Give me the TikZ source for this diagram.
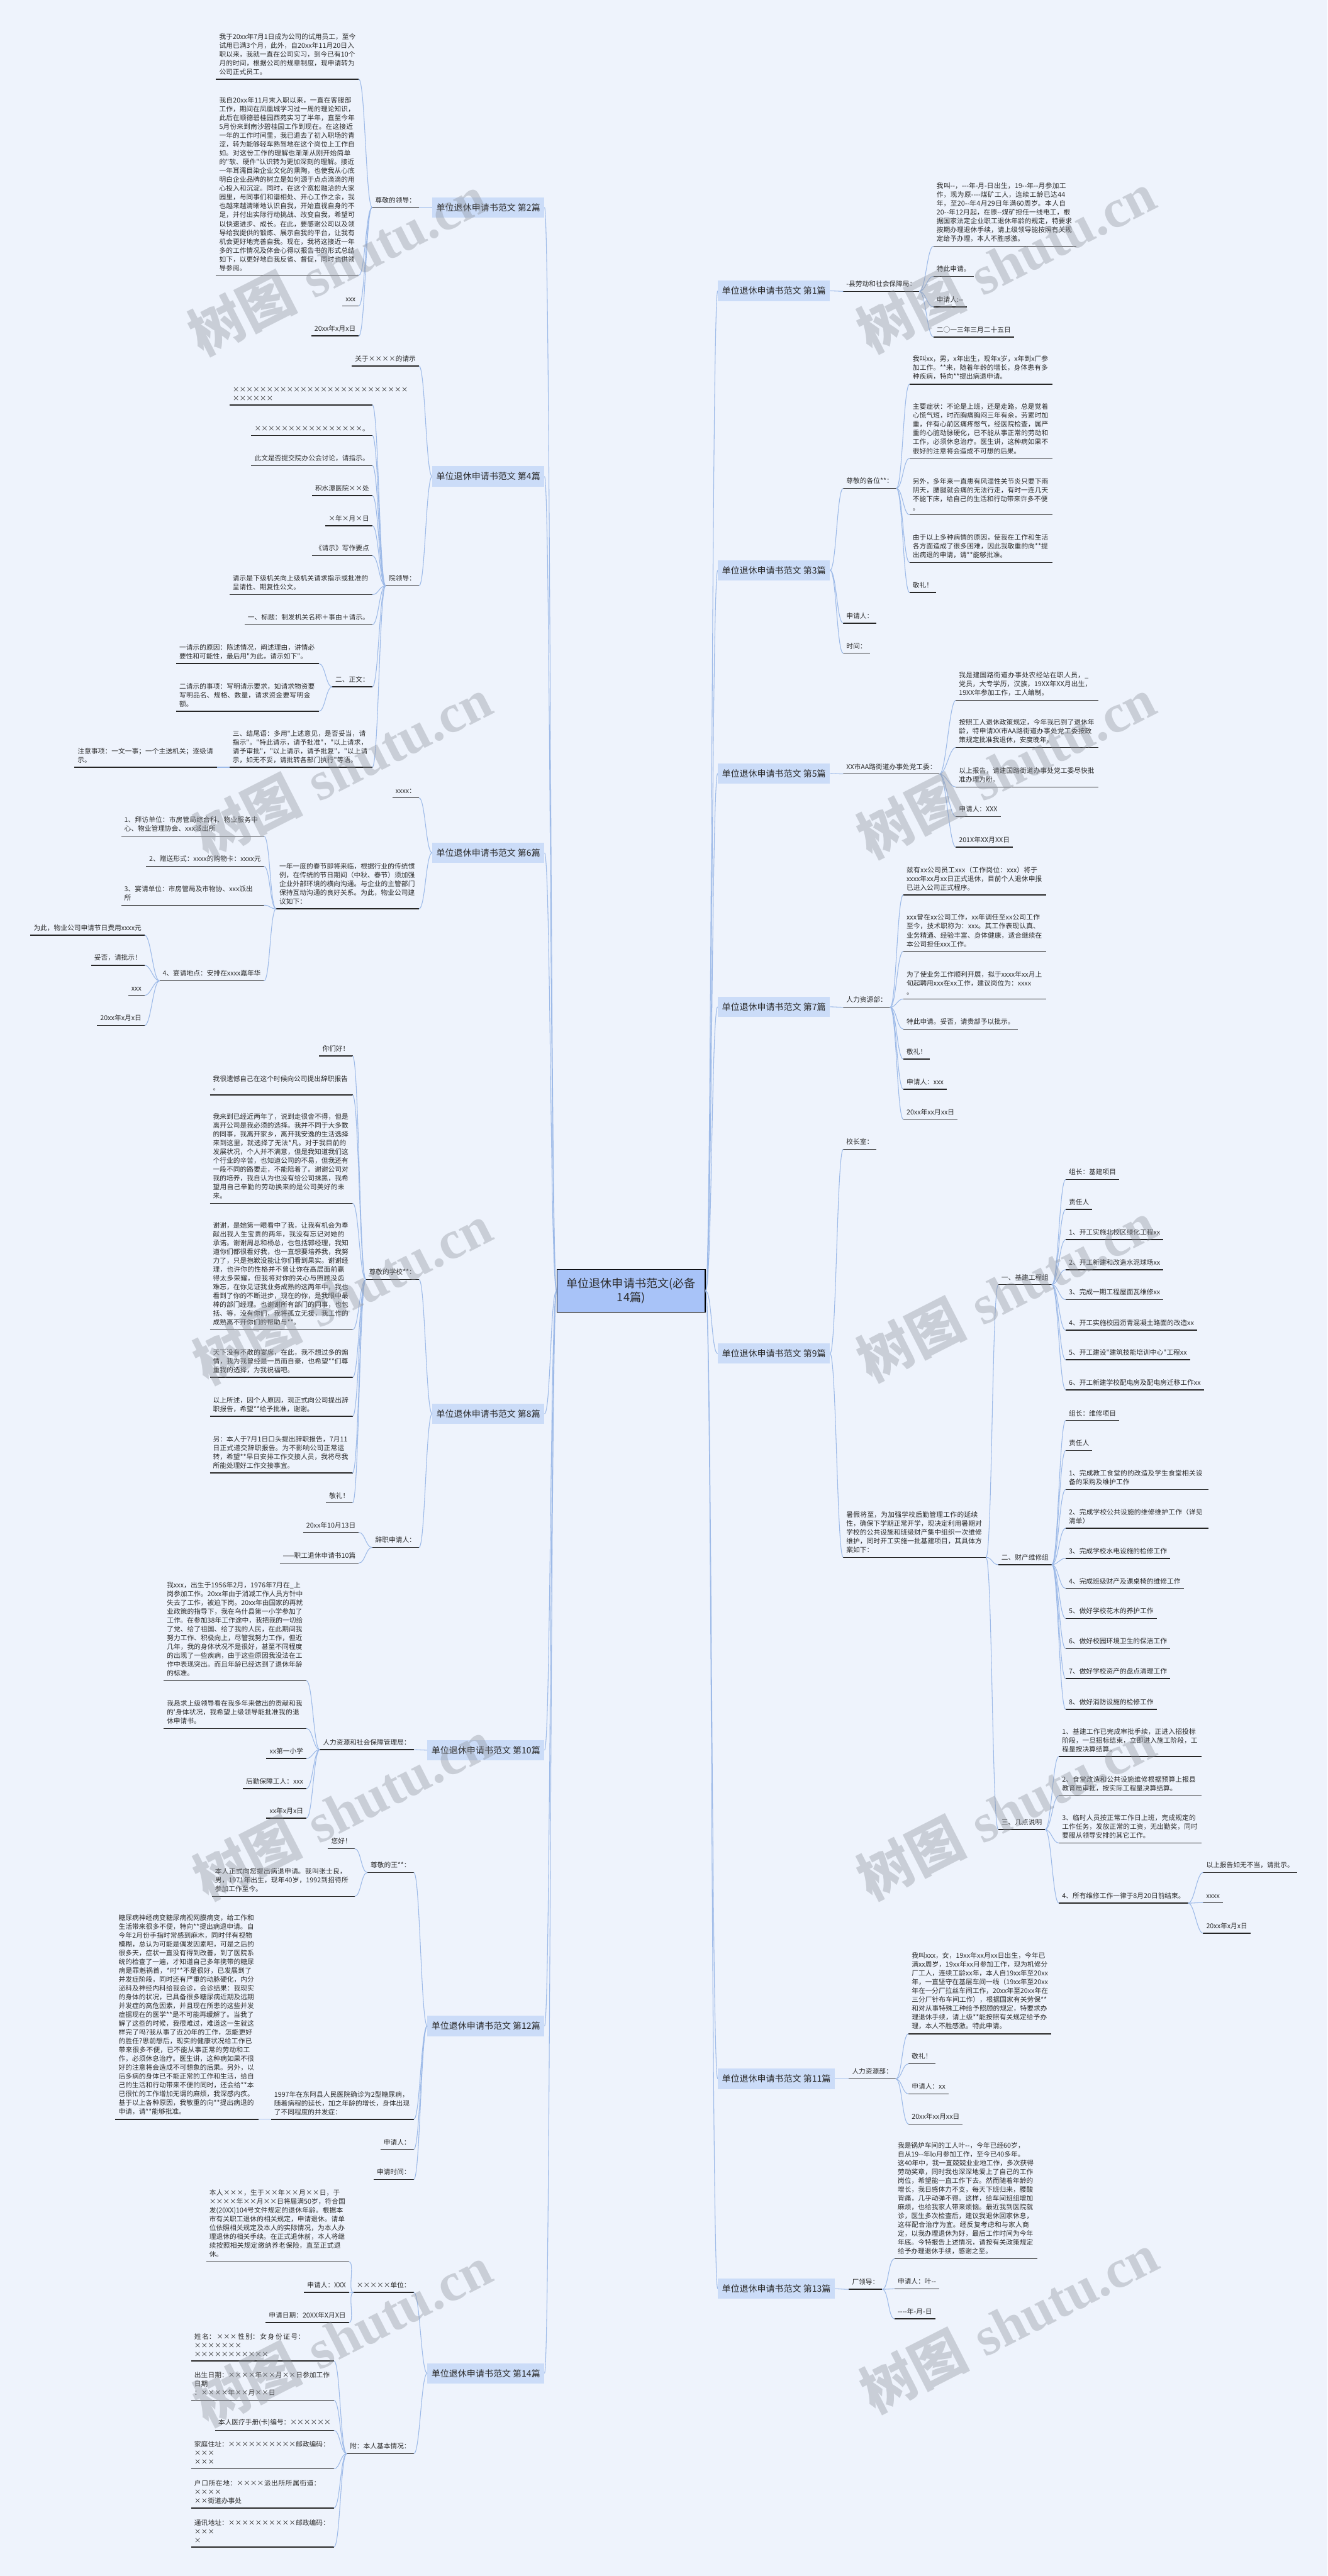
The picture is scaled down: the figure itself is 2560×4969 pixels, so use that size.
\documentclass[tikz,border=0pt]{standalone}
\usepackage{fontspec}
\newfontfamily\zh{Noto Sans CJK SC}
\newfontfamily\wmf{Liberation Serif}
\usepackage{tikz}
\XeTeXlinebreaklocale "zh"
\XeTeXlinebreakskip=0pt plus 1pt
\definecolor{bgc}{HTML}{EEF3FC}
\definecolor{tpc}{HTML}{CBDCF8}
\definecolor{rtc}{HTML}{A8C3F8}
\definecolor{lkc}{HTML}{9DBAE8}
\definecolor{txc}{HTML}{2B2B2B}
\definecolor{wmc}{HTML}{8E939C}

\begin{document}
\begin{tikzpicture}[
    x=1pt, y=-1pt,
    leaf/.style={font=\zh\fontsize{13}{17}\selectfont, text=txc, inner xsep=6pt, inner ysep=8pt, align=left,
      append after command={(\tikzlastnode.south west) edge[uline] (\tikzlastnode.south east)}},
    lf/.style={leaf, anchor=south east},
    rt/.style={leaf, anchor=south west},
    para/.style={text width=263pt},
    uline/.style={draw=black!85, line width=1.8pt},
    topic/.style={fill=tpc, text=txc, font=\zh\fontsize{17}{20}\selectfont, inner xsep=8pt, minimum height=39pt},
    rootbox/.style={fill=rtc, draw=black, line width=1.5pt, text=txc, font=\zh\fontsize{22}{27}\selectfont,
      align=center, minimum width=286pt, minimum height=83pt},
    lk/.style={draw=lkc, line width=1.3pt},
    toL/.style={to path={.. controls +(-12,0) and +(12,0) .. (\tikztotarget)}},
    toR/.style={to path={.. controls +(12,0) and +(-12,0) .. (\tikztotarget)}},
    wm/.style={rotate=27, text=wmc, opacity=0.38, inner sep=0pt, font=\fontsize{105}{105}\selectfont}
]
\fill[bgc] (0,0) rectangle (2560,4969);
\useasboundingbox (0,0) rectangle (2560,4969);

\node[rootbox] (R) at (1217,2490) {单位退休申请书范文(必备\\14篇)};

% left side
\node[topic, anchor=east] (L2) at (1050,400) {单位退休申请书范文 第2篇};
\node[lf] (L2a) at (808,400) {尊敬的领导：};
\node[lf, para] (L2a1) at (692,153) {我于20xx年7月1日成为公司的试用员工，至今试用已满3个月，此外，自20xx年11月20日入职以来，我就一直在公司实习，到今已有10个月的时间，根据公司的规章制度，现申请转为公司正式员工。};
\node[lf, para] (L2a2) at (692,531) {我自20xx年11月末入职以来，一直在客服部工作，期间在凤凰城学习过一周的理论知识，此后在顺德碧桂园西苑实习了半年，直至今年5月份来到南沙碧桂园工作到现在。在这接近一年的工作时间里，我已退去了初入职场的青涩，转为能够轻车熟驾地在这个岗位上工作自如。对这份工作的理解也渐渐从刚开始简单的"软、硬件"认识转为更加深刻的理解。接近一年耳濡目染企业文化的熏陶，也使我从心底明白企业品牌的树立是如何源于点点滴滴的用心投入和沉淀。同时，在这个宽松融洽的大家园里，与同事们和谐相处、开心工作之余，我也越来越清晰地认识自我，开始直视自身的不足，并付出实际行动挑战、改变自我，希望可以快速进步、成长。在此，要感谢公司以及领导给我提供的锻炼、展示自我的平台，让我有机会更好地完善自我。现在，我将这接近一年多的工作情况及体会心得以报告书的形式总结如下，以更好地自我反省、督促，同时也供领导参阅。};
\node[lf] (L2a3) at (692,590) {xxx};
\node[lf] (L2a4) at (692,648) {20xx年x月x日};

\node[topic, anchor=east] (L4) at (1050,919) {单位退休申请书范文 第4篇};
\node[lf] (L4a) at (808,706) {关于××××的请示};
\node[lf] (L4b) at (808,1130) {院领导：};
\node[lf, para] (L4b1) at (718,781) {××××××××××××××××××××××××××\\××××××};
\node[lf] (L4b2) at (718,840) {××××××××××××××××。};
\node[lf] (L4b3) at (718,898) {此文是否提交院办公会讨论，请指示。};
\node[lf] (L4b4) at (718,956) {积水潭医院××处};
\node[lf] (L4b5) at (718,1014) {×年×月×日};
\node[lf] (L4b6) at (718,1072) {《请示》写作要点};
\node[lf, para] (L4b7) at (718,1147) {请示是下级机关向上级机关请求指示或批准的呈请性、期复性公文。};
\node[lf] (L4b8) at (718,1205) {一、标题：制发机关名称＋事由＋请示。};
\node[lf] (L4b9) at (718,1325) {二、正文：};
\node[lf, para] (L4c1) at (615,1280) {一请示的原因：陈述情况，阐述理由，讲情必要性和可能性，最后用"为此，请示如下"。};
\node[lf, para] (L4c2) at (615,1372) {二请示的事项：写明请示要求，如请求物资要写明品名、规格、数量，请求资金要写明金额。};
\node[lf, para] (L4b10) at (718,1480) {三、结尾语：多用"上述意见，是否妥当，请指示"。"特此请示，请予批准"，"以上请求，请予审批"，"以上请示，请予批复"，"以上请示，如无不妥，请批转各部门执行"等语。};
\node[lf, para] (L4d) at (419,1480) {注意事项：一文一事；一个主送机关；逐级请示。};

\node[topic, anchor=east] (L6) at (1050,1645) {单位退休申请书范文 第6篇};
\node[lf] (L6a) at (808,1539) {xxxx：};
\node[lf, para] (L6b) at (808,1753) {一年一度的春节即将来临，根据行业的传统惯例，在传统的节日期间（中秋、春节）须加强企业外部环境的横向沟通。与企业的主管部门保持互动沟通的良好关系。为此，物业公司建议如下：};
\node[lf, para] (L6b1) at (509,1613) {1、拜访单位：市房管局综合科、物业服务中心、物业管理协会、xxx派出所};
\node[lf] (L6b2) at (509,1671) {2、赠送形式：xxxx的购物卡：xxxx元};
\node[lf, para] (L6b3) at (509,1746) {3、宴请单位：市房管局及市物协、xxx派出\\所};
\node[lf] (L6b4) at (509,1892) {4、宴请地点：安排在xxxx嘉年华};
\node[lf] (L6c1) at (279,1804) {为此，物业公司申请节日费用xxxx元};
\node[lf] (L6c2) at (279,1862) {妥否，请批示！};
\node[lf] (L6c3) at (279,1920) {xxx};
\node[lf] (L6c4) at (279,1978) {20xx年x月x日};

\node[topic, anchor=east] (L8) at (1050,2727) {单位退休申请书范文 第8篇};
\node[lf] (L8a) at (808,2468) {尊敬的学校**：};
\node[lf] (L8a1) at (680,2037) {你们好！};
\node[lf, para] (L8a2) at (680,2112) {我很遗憾自己在这个时候向公司提出辞职报告\\。};
\node[lf, para] (L8a3) at (680,2321) {我来到已经近两年了，说到走很舍不得，但是离开公司是我必须的选择。我并不同于大多数的同事，我离开家乡，离开我安逸的生活选择来到这里，就选择了无法*凡。对于我目前的发展状况，个人并不满意，但是我知道我们这个行业的辛苦，也知道公司的不易，但我还有一段不同的路要走，不能陪着了。谢谢公司对我的培养，我自认为也没有给公司抹黑，我希望用自己辛勤的劳动换来的是公司美好的未来。};
\node[lf, para] (L8a4) at (680,2565) {谢谢，是她第一眼看中了我，让我有机会为奉献出我人生宝贵的两年，我没有忘记对她的承诺。谢谢周总和杨总，也包括郭经理，我知道你们都很看好我，也一直想要培养我，我努力了，只是抱歉没能让你们看到果实。谢谢经理，也许你的性格并不曾让你在高层面前赢得太多荣耀，但我将对你的关心与照顾没齿难忘，在你见证我业务成熟的这两年中，我也看到了你的不断进步，现在的你，是我眼中最棒的部门经理。也谢谢所有部门的同事，也包括、等，没有你们，我将孤立无援，我工作的成熟离不开你们的帮助与**。};
\node[lf, para] (L8a5) at (680,2657) {天下没有不散的宴席，在此，我不想过多的煽情，我为我曾经是一员而自豪，也希望**们尊重我的选择，为我祝福吧。};
\node[lf, para] (L8a6) at (680,2732) {以上所述，因个人原因，现正式向公司提出辞职报告，希望**给予批准，谢谢。};
\node[lf, para] (L8a7) at (680,2841) {另：本人于7月1日口头提出辞职报告，7月11日正式递交辞职报告。为不影响公司正常运转，希望**早日安排工作交接人员，我将尽我所能处理好工作交接事宜。};
\node[lf] (L8a8) at (680,2899) {敬礼！};
\node[lf] (L8b) at (808,2985) {辞职申请人：};
\node[lf] (L8b1) at (692,2956) {20xx年10月13日};
\node[lf] (L8b2) at (692,3015) {——职工退休申请书10篇};

\node[topic, anchor=east] (L10) at (1050,3376) {单位退休申请书范文 第10篇};
\node[lf] (L10a) at (798,3375) {人力资源和社会保障管理局：};
\node[lf, para] (L10a1) at (591,3242) {我xxx，出生于1956年2月，1976年7月在\_上岗参加工作。20xx年由于消减工作人员方针中失去了工作，被迫下岗。20xx年由国家的再就业政策的指导下，我在乌什县第一小学参加了工作。在参加38年工作途中，我把我的一切给了党、给了祖国、给了我的人民，在此期间我努力工作、积极向上，尽管我努力工作，但近几年，我的身体状况不是很好，甚至不同程度的出现了一些疾病，由于这些原因我没法在工作中表现突出。而且年龄已经达到了退休年龄的标准。};
\node[lf, para] (L10a2) at (591,3334) {我恳求上级领导看在我多年来做出的贡献和我的'身体状况，我希望上级领导能批准我的退休申请书。};
\node[lf] (L10a3) at (591,3392) {xx第一小学};
\node[lf] (L10a4) at (591,3450) {后勤保障工人：xxx};
\node[lf] (L10a5) at (591,3507) {xx年x月x日};

\node[topic, anchor=east] (L12) at (1050,3908) {单位退休申请书范文 第12篇};
\node[lf] (L12a) at (798,3612) {尊敬的王**：};
\node[lf] (L12a1) at (684,3566) {您好！};
\node[lf, para] (L12a2) at (684,3658) {本人正式向您提出病退申请。我叫张士良，男，1971年出生，现年40岁，1992到招待所参加工作至今。};
\node[lf, para] (L12b) at (798,4088) {1997年在东阿县人民医院确诊为2型糖尿病，随着病程的延长，加之年龄的增长，身体出现了不同程度的并发症：};
\node[lf, para] (L12c) at (498,4088) {糖尿病神经病变糖尿病视网膜病变，给工作和生活带来很多不便，特向**提出病退申请。自今年2月份手指时常感到麻木，同时伴有视物模糊，总认为可能是偶发因素吧，可是之后的很多天，症状一直没有得到改善，到了医院系统的检查了一遍，才知道自己多年携带的糖尿病是罪魁祸首，*时**不是很好，已发展到了并发症阶段，同时还有严重的动脉硬化，内分泌科及神经内科给我会诊，会诊结果：我现实的身体的状况，已具备很多糖尿病近期及远期并发症的高危因素，并且现在所患的这些并发症据现在的医学**是不可能再缓解了。当我了解了这些的时候，我很难过，难道这一生就这样完了吗?我从事了近20年的工作，怎能更好的胜任?思前想后，现实的健康状况给工作已带来很多不便，已不能从事正常的劳动和工作，必须休息治疗。医生讲，这种病如果不很好的注意将会造成不可想象的后果。另外，以后多病的身体已不能正常的工作和生活，给自己的生活和行动带来不便的同时，还会给**本已很忙的工作增加无谓的麻烦，我深感内疚。基于以上各种原因，我敬重的向**提出病退的申请，请**能够批准。};
\node[lf] (L12d) at (798,4146) {申请人：};
\node[lf] (L12e) at (798,4204) {申请时间：};

\node[topic, anchor=east] (L14) at (1050,4578) {单位退休申请书范文 第14篇};
\node[lf] (L14a) at (798,4422) {×××××单位：};
\node[lf, para] (L14a1) at (673,4363) {本人×××，生于××年××月××日，于××××年××月××日将届满50岁，符合国发(20XX)104号文件规定的退休年龄。根据本市有关职工退休的相关规定，申请退休。请单位依照相关规定及本人的实际情况，为本人办理退休的相关手续。在正式退休前，本人将继续按照相关规定缴纳养老保险，直至正式退休。};
\node[lf] (L14a2) at (673,4422) {申请人：XXX};
\node[lf] (L14a3) at (673,4480) {申请日期：20XX年X月X日};
\node[lf] (L14b) at (798,4733) {附：本人基本情况：};
\node[lf, para] (L14b1) at (644,4554) {姓名：×××性别：女身份证号：×××××××\\×××××××××××};
\node[lf, para] (L14b2) at (644,4630) {出生日期：××××年××月××日参加工作日期\\：××××年××月××日};
\node[lf] (L14b3) at (644,4688) {本人医疗手册(卡)编号：××××××};
\node[lf, para] (L14b4) at (644,4762) {家庭住址：××××××××××邮政编码：×××\\×××};
\node[lf, para] (L14b5) at (644,4838) {户口所在地：××××派出所所属街道：××××\\××街道办事处};
\node[lf, para] (L14b6) at (644,4913) {通讯地址：××××××××××邮政编码：×××\\×};

% right side
\node[topic, anchor=west] (R1) at (1384,561) {单位退休申请书范文 第1篇};
\node[rt] (R1a) at (1626,562) {-县劳动和社会保障局：};
\node[rt, para] (R1a1) at (1800,475) {我叫--，---年-月-日出生，19--年--月参加工作，现为原----煤矿工人，连续工龄已达44年，至20--年4月29日年满60周岁。本人自20--年12月起，在原--煤矿担任一线电工，根据国家法定企业职工退休年龄的规定，特要求按期办理退休手续，请上级领导能按照有关规定给予办理，本人不胜感激。};
\node[rt] (R1a2) at (1800,533) {特此申请。};
\node[rt] (R1a3) at (1800,592) {申请人:--};
\node[rt] (R1a4) at (1800,650) {二○一三年三月二十五日};

\node[topic, anchor=west] (R3) at (1384,1100) {单位退休申请书范文 第3篇};
\node[rt] (R3a) at (1626,942) {尊敬的各位**：};
\node[rt, para] (R3a1) at (1754,741) {我叫xx，男，x年出生，现年x岁，x年到x厂参加工作。**来，随着年龄的增长，身体患有多种疾病，特向**提出病退申请。};
\node[rt, para] (R3a2) at (1754,884) {主要症状：不论是上班，还是走路，总是觉着心慌气短，时而胸痛胸闷三年有余，劳累时加重，伴有心前区痛疼憋气，经医院检查，属严重的心脏动脉硬化，已不能从事正常的劳动和工作，必须休息治疗。医生讲，这种病如果不很好的注意将会造成不可想的后果。};
\node[rt, para] (R3a3) at (1754,993) {另外，多年来一直患有风湿性关节炎只要下雨阴天，腰腿就会痛的无法行走，有时一连几天不能下床，给自己的生活和行动带来许多不便\\。};
\node[rt, para] (R3a4) at (1754,1085) {由于以上多种病情的原因，使我在工作和生活各方面造成了很多困难，因此我敬重的向**提出病退的申请，请**能够批准。};
\node[rt] (R3a5) at (1754,1143) {敬礼！};
\node[rt] (R3b) at (1626,1202) {申请人：};
\node[rt] (R3c) at (1626,1260) {时间：};

\node[topic, anchor=west] (R5) at (1384,1492) {单位退休申请书范文 第5篇};
\node[rt] (R5a) at (1626,1493) {XX市AA路街道办事处党工委：};
\node[rt, para] (R5a1) at (1843,1351) {我是建国路街道办事处农经站在职人员，\_党员，大专学历，汉族，19XX年XX月出生，19XX年参加工作，工人编制。};
\node[rt, para] (R5a2) at (1843,1442) {按照工人退休政策规定，今年我已到了退休年龄，特申请XX市AA路街道办事处党工委按政策规定批准我退休，安度晚年。};
\node[rt, para] (R5a3) at (1843,1518) {以上报告，请建国路街道办事处党工委尽快批准办理为盼。};
\node[rt] (R5a4) at (1843,1575) {申请人：XXX};
\node[rt] (R5a5) at (1843,1634) {201X年XX月XX日};

\node[topic, anchor=west] (R7) at (1384,1942) {单位退休申请书范文 第7篇};
\node[rt] (R7a) at (1626,1943) {人力资源部：};
\node[rt, para] (R7a1) at (1742,1726) {兹有xx公司员工xxx（工作岗位：xxx）将于xxxx年xx月xx日正式退休，目前个人退休申报已进入公司正式程序。};
\node[rt, para] (R7a2) at (1742,1835) {xxx曾在xx公司工作，xx年调任至xx公司工作至今，技术职称为：xxx。其工作表现认真、业务精通、经验丰富、身体健康，适合继续在本公司担任xxx工作。};
\node[rt, para] (R7a3) at (1742,1927) {为了使业务工作顺利开展，拟于xxxx年xx月上旬起聘用xxx在xx工作，建议岗位为：xxxx\\。};
\node[rt] (R7a4) at (1742,1985) {特此申请。妥否，请贵部予以批示。};
\node[rt] (R7a5) at (1742,2043) {敬礼！};
\node[rt] (R7a6) at (1742,2101) {申请人：xxx};
\node[rt] (R7a7) at (1742,2159) {20xx年xx月xx日};

\node[topic, anchor=west] (R9) at (1384,2611) {单位退休申请书范文 第9篇};
\node[rt] (R9a) at (1626,2217) {校长室：};
\node[rt, para] (R9b) at (1626,3004) {暑假将至，为加强学校后勤管理工作的延续性，确保下学期正常开学，现决定利用暑期对学校的公共设施和班级财产集中组织一次维修维护，同时开工实施一批基建项目，其具体方案如下：};
\node[rt] (R9c) at (1925,2478) {一、基建工程组};
\node[rt] (R9c1) at (2055,2275) {组长：基建项目};
\node[rt] (R9c2) at (2055,2333) {责任人};
\node[rt] (R9c3) at (2055,2391) {1、开工实施北校区绿化工程xx};
\node[rt] (R9c4) at (2055,2449) {2、开工新建和改造水泥球场xx};
\node[rt] (R9c5) at (2055,2507) {3、完成一期工程屋面瓦维修xx};
\node[rt] (R9c6) at (2055,2566) {4、开工实施校园沥青混凝土路面的改造xx};
\node[rt] (R9c7) at (2055,2623) {5、开工建设"建筑技能培训中心"工程xx};
\node[rt] (R9c8) at (2055,2681) {6、开工新建学校配电房及配电房迁移工作xx};
\node[rt] (R9d) at (1925,3018) {二、财产维修组};
\node[rt] (R9d1) at (2055,2740) {组长：维修项目};
\node[rt] (R9d2) at (2055,2798) {责任人};
\node[rt, para] (R9d3) at (2055,2873) {1、完成教工食堂的的改造及学生食堂相关设备的采购及维护工作};
\node[rt, para] (R9d4) at (2055,2948) {2、完成学校公共设施的维修维护工作（详见清单）};
\node[rt] (R9d5) at (2055,3006) {3、完成学校水电设施的检修工作};
\node[rt] (R9d6) at (2055,3064) {4、完成班级财产及课桌椅的维修工作};
\node[rt] (R9d7) at (2055,3122) {5、做好学校花木的养护工作};
\node[rt] (R9d8) at (2055,3180) {6、做好校园环境卫生的保洁工作};
\node[rt] (R9d9) at (2055,3238) {7、做好学校资产的盘点清理工作};
\node[rt] (R9d10) at (2055,3297) {8、做好消防设施的检修工作};
\node[rt] (R9e) at (1925,3529) {三、几点说明};
\node[rt, para] (R9e1) at (2042,3388) {1、基建工作已完成审批手续，正进入招投标阶段，一旦招标结束，立即进入施工阶段，工程量按决算结算。};
\node[rt, para] (R9e2) at (2042,3464) {2、食堂改造和公共设施维修根据预算上报县教育局审批，按实际工程量决算结算。};
\node[rt, para] (R9e3) at (2042,3555) {3、临时人员按正常工作日上班，完成规定的工作任务，发放正常的工资，无出勤奖，同时要服从领导安排的其它工作。};
\node[rt] (R9e4) at (2042,3671) {4、所有维修工作一律于8月20日前结束。};
\node[rt] (R9f1) at (2320,3612) {以上报告如无不当，请批示。};
\node[rt] (R9f2) at (2320,3670) {xxxx};
\node[rt] (R9f3) at (2320,3729) {20xx年x月x日};

\node[topic, anchor=west] (R11) at (1384,4010) {单位退休申请书范文 第11篇};
\node[rt] (R11a) at (1637,4010) {人力资源部：};
\node[rt, para] (R11a1) at (1752,3923) {我叫xxx，女，19xx年xx月xx日出生，今年已满xx周岁，19xx年xx月参加工作，现为机修分厂工人，连续工龄xx年，本人自19xx年至20xx年，一直坚守在基层车间一线（19xx年至20xx年在一分厂拉丝车间工作，20xx年至20xx年在三分厂针布车间工作），根据国家有关劳保**和对从事特殊工种给予照顾的规定，特要求办理退休手续，请上级**能按照有关规定给予办理，本人不胜感激。特此申请。};
\node[rt] (R11a2) at (1752,3981) {敬礼！};
\node[rt] (R11a3) at (1752,4039) {申请人：xx};
\node[rt] (R11a4) at (1752,4097) {20xx年xx月xx日};

\node[topic, anchor=west] (R13) at (1384,4415) {单位退休申请书范文 第13篇};
\node[rt] (R13a) at (1637,4416) {厂领导：};
\node[rt, para] (R13a1) at (1725,4357) {我是锅炉车间的工人叶--，今年已经60岁，\\自从19--年lo月参加工作，至今已40多年。\\这40年中，我一直兢兢业业地工作，多次获得劳动奖章，同时我也深深地爱上了自己的工作岗位，希望能一直工作下去。然而随着年龄的增长，我日感体力不支，每天下班归来，腰酸背痛，几乎动弹不得。这样，给车间班组增加麻烦，也给我家人带来烦恼。最近我到医院就诊，医生多次检查后，建议我退休回家休息，这样配合治疗为宜。经反复考虑和与家人商定，以我办理退休为好，最后工作时间为今年年底。今特报告上述情况，请按有关政策规定给予办理退休手续，感谢之至。};
\node[rt] (R13a2) at (1725,4415) {申请人：叶--};
\node[rt] (R13a3) at (1725,4473) {----年-月-日};

% connectors
\draw[lk] (R.west) edge[toL] (L2.east) edge[toL] (L4.east) edge[toL] (L6.east) edge[toL] (L8.east)
  edge[toL] (L10.east) edge[toL] (L12.east) edge[toL] (L14.east);
\draw[lk] (R.east) edge[toR] (R1.west) edge[toR] (R3.west) edge[toR] (R5.west) edge[toR] (R7.west)
  edge[toR] (R9.west) edge[toR] (R11.west) edge[toR] (R13.west);

\draw[lk] (L2.west) edge[toL] (L2a.south east);
\draw[lk] (L2a.south west) edge[toL] (L2a1.south east) edge[toL] (L2a2.south east) edge[toL] (L2a3.south east) edge[toL] (L2a4.south east);

\draw[lk] (L4.west) edge[toL] (L4a.south east) edge[toL] (L4b.south east);
\draw[lk] (L4b.south west) edge[toL] (L4b1.south east) edge[toL] (L4b2.south east) edge[toL] (L4b3.south east)
  edge[toL] (L4b4.south east) edge[toL] (L4b5.south east) edge[toL] (L4b6.south east) edge[toL] (L4b7.south east)
  edge[toL] (L4b8.south east) edge[toL] (L4b9.south east) edge[toL] (L4b10.south east);
\draw[lk] (L4b9.south west) edge[toL] (L4c1.south east) edge[toL] (L4c2.south east);
\draw[lk] (L4b10.south west) -- (L4d.south east);

\draw[lk] (L6.west) edge[toL] (L6a.south east) edge[toL] (L6b.south east);
\draw[lk] (L6b.south west) edge[toL] (L6b1.south east) edge[toL] (L6b2.south east) edge[toL] (L6b3.south east) edge[toL] (L6b4.south east);
\draw[lk] (L6b4.south west) edge[toL] (L6c1.south east) edge[toL] (L6c2.south east) edge[toL] (L6c3.south east) edge[toL] (L6c4.south east);

\draw[lk] (L8.west) edge[toL] (L8a.south east) edge[toL] (L8b.south east);
\draw[lk] (L8a.south west) edge[toL] (L8a1.south east) edge[toL] (L8a2.south east) edge[toL] (L8a3.south east)
  edge[toL] (L8a4.south east) edge[toL] (L8a5.south east) edge[toL] (L8a6.south east) edge[toL] (L8a7.south east)
  edge[toL] (L8a8.south east);
\draw[lk] (L8b.south west) edge[toL] (L8b1.south east) edge[toL] (L8b2.south east);

\draw[lk] (L10.west) edge[toL] (L10a.south east);
\draw[lk] (L10a.south west) edge[toL] (L10a1.south east) edge[toL] (L10a2.south east) edge[toL] (L10a3.south east)
  edge[toL] (L10a4.south east) edge[toL] (L10a5.south east);

\draw[lk] (L12.west) edge[toL] (L12a.south east) edge[toL] (L12b.south east) edge[toL] (L12d.south east) edge[toL] (L12e.south east);
\draw[lk] (L12a.south west) edge[toL] (L12a1.south east) edge[toL] (L12a2.south east);
\draw[lk] (L12b.south west) -- (L12c.south east);

\draw[lk] (L14.west) edge[toL] (L14a.south east) edge[toL] (L14b.south east);
\draw[lk] (L14a.south west) edge[toL] (L14a1.south east) edge[toL] (L14a2.south east) edge[toL] (L14a3.south east);
\draw[lk] (L14b.south west) edge[toL] (L14b1.south east) edge[toL] (L14b2.south east) edge[toL] (L14b3.south east)
  edge[toL] (L14b4.south east) edge[toL] (L14b5.south east) edge[toL] (L14b6.south east);

\draw[lk] (R1.east) edge[toR] (R1a.south west);
\draw[lk] (R1a.south east) edge[toR] (R1a1.south west) edge[toR] (R1a2.south west) edge[toR] (R1a3.south west) edge[toR] (R1a4.south west);

\draw[lk] (R3.east) edge[toR] (R3a.south west) edge[toR] (R3b.south west) edge[toR] (R3c.south west);
\draw[lk] (R3a.south east) edge[toR] (R3a1.south west) edge[toR] (R3a2.south west) edge[toR] (R3a3.south west)
  edge[toR] (R3a4.south west) edge[toR] (R3a5.south west);

\draw[lk] (R5.east) edge[toR] (R5a.south west);
\draw[lk] (R5a.south east) edge[toR] (R5a1.south west) edge[toR] (R5a2.south west) edge[toR] (R5a3.south west)
  edge[toR] (R5a4.south west) edge[toR] (R5a5.south west);

\draw[lk] (R7.east) edge[toR] (R7a.south west);
\draw[lk] (R7a.south east) edge[toR] (R7a1.south west) edge[toR] (R7a2.south west) edge[toR] (R7a3.south west)
  edge[toR] (R7a4.south west) edge[toR] (R7a5.south west) edge[toR] (R7a6.south west) edge[toR] (R7a7.south west);

\draw[lk] (R9.east) edge[toR] (R9a.south west) edge[toR] (R9b.south west);
\draw[lk] (R9b.south east) edge[toR] (R9c.south west) edge[toR] (R9d.south west) edge[toR] (R9e.south west);
\draw[lk] (R9c.south east) edge[toR] (R9c1.south west) edge[toR] (R9c2.south west) edge[toR] (R9c3.south west)
  edge[toR] (R9c4.south west) edge[toR] (R9c5.south west) edge[toR] (R9c6.south west) edge[toR] (R9c7.south west)
  edge[toR] (R9c8.south west);
\draw[lk] (R9d.south east) edge[toR] (R9d1.south west) edge[toR] (R9d2.south west) edge[toR] (R9d3.south west)
  edge[toR] (R9d4.south west) edge[toR] (R9d5.south west) edge[toR] (R9d6.south west) edge[toR] (R9d7.south west)
  edge[toR] (R9d8.south west) edge[toR] (R9d9.south west) edge[toR] (R9d10.south west);
\draw[lk] (R9e.south east) edge[toR] (R9e1.south west) edge[toR] (R9e2.south west) edge[toR] (R9e3.south west) edge[toR] (R9e4.south west);
\draw[lk] (R9e4.south east) edge[toR] (R9f1.south west) edge[toR] (R9f2.south west) edge[toR] (R9f3.south west);

\draw[lk] (R11.east) edge[toR] (R11a.south west);
\draw[lk] (R11a.south east) edge[toR] (R11a1.south west) edge[toR] (R11a2.south west) edge[toR] (R11a3.south west) edge[toR] (R11a4.south west);

\draw[lk] (R13.east) edge[toR] (R13a.south west);
\draw[lk] (R13a.south east) edge[toR] (R13a1.south west) edge[toR] (R13a2.south west) edge[toR] (R13a3.south west);

% watermark
\node[wm] (W1) at (650,510) {{\zh\bfseries 树图} {\wmf\bfseries shutu.cn}};
\node[wm] (W2) at (660,1480) {{\zh\bfseries 树图} {\wmf\bfseries shutu.cn}};
\node[wm] (W3) at (660,2495) {{\zh\bfseries 树图} {\wmf\bfseries shutu.cn}};
\node[wm] (W4) at (660,3490) {{\zh\bfseries 树图} {\wmf\bfseries shutu.cn}};
\node[wm] (W5) at (660,4505) {{\zh\bfseries 树图} {\wmf\bfseries shutu.cn}};
\node[wm] (W6) at (1940,505) {{\zh\bfseries 树图} {\wmf\bfseries shutu.cn}};
\node[wm] (W7) at (1940,1480) {{\zh\bfseries 树图} {\wmf\bfseries shutu.cn}};
\node[wm] (W8) at (1940,2490) {{\zh\bfseries 树图} {\wmf\bfseries shutu.cn}};
\node[wm] (W9) at (1940,3490) {{\zh\bfseries 树图} {\wmf\bfseries shutu.cn}};
\node[wm] (W10) at (1945,4480) {{\zh\bfseries 树图} {\wmf\bfseries shutu.cn}};
\end{tikzpicture}
\end{document}
